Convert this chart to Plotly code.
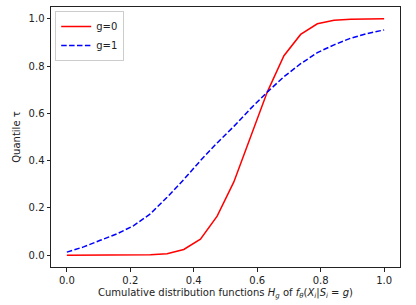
import plotly.graph_objects as go

x_vals = [i / 19 for i in range(20)]
red_g0 = [0.0, 0.0, 0.0, 0.0, 0.0005, 0.002, 0.006, 0.024, 0.068, 0.165,
          0.31, 0.50, 0.69, 0.844, 0.934, 0.979, 0.994, 0.998, 0.999, 1.0]
blue_g1 = [0.013, 0.035, 0.063, 0.09, 0.125, 0.175, 0.245, 0.32, 0.40, 0.475,
           0.545, 0.62, 0.69, 0.755, 0.81, 0.857, 0.89, 0.918, 0.938, 0.953]
tick_vals = [0.0, 0.2, 0.4, 0.6, 0.8, 1.0]
tick_text = ["0.0", "0.2", "0.4", "0.6", "0.8", "1.0"]

fig = go.Figure()
fig.add_trace(go.Scatter(x=x_vals, y=red_g0, mode="lines", name="g=0",
                         line=dict(color="#ff0000", width=1.5)))
fig.add_trace(go.Scatter(x=x_vals, y=blue_g1, mode="lines", name="g=1",
                         line=dict(color="#0000ff", width=1.5, dash="5.5px,2.4px")))

axis_common = dict(
    showgrid=False, zeroline=False, showline=True, linecolor="#222222",
    linewidth=1, mirror=True, ticks="outside", ticklen=3.5, tickwidth=0.8,
    tickcolor="#222222", tickfont=dict(family="DejaVu Sans", size=10, color="#222222"),
    tickvals=tick_vals, ticktext=tick_text, automargin=False,
)
fig.update_xaxes(range=[-0.05, 1.05], **axis_common,
                 title=dict(text="Cumulative distribution functions <i>H</i><sub><i>g</i></sub> of <i>f</i><sub><i>θ</i></sub>(<i>X</i><sub><i>i</i></sub>|<i>S</i><sub><i>i</i></sub> = <i>g</i>)",
                            font=dict(family="DejaVu Sans", size=10, color="#222222"), standoff=4))
fig.update_yaxes(range=[-0.05, 1.05], **axis_common,
                 title=dict(text="Quantile τ",
                            font=dict(family="DejaVu Sans", size=10, color="#222222"), standoff=6))

fig.update_layout(
    width=416, height=305,
    margin=dict(l=51, r=16, t=7, b=38),
    paper_bgcolor="white", plot_bgcolor="white",
    legend=dict(x=0.012, y=0.985, xanchor="left", yanchor="top",
                bgcolor="rgba(255,255,255,0.8)", bordercolor="#cccccc", borderwidth=1,
                font=dict(family="DejaVu Sans", size=10, color="#222222"),
                tracegroupgap=0, itemwidth=30),
    showlegend=True,
)

fig.write_html("out.html", config={"displayModeBar": False},
               post_script="document.body.style.margin='0px';document.body.style.overflow='hidden';")
